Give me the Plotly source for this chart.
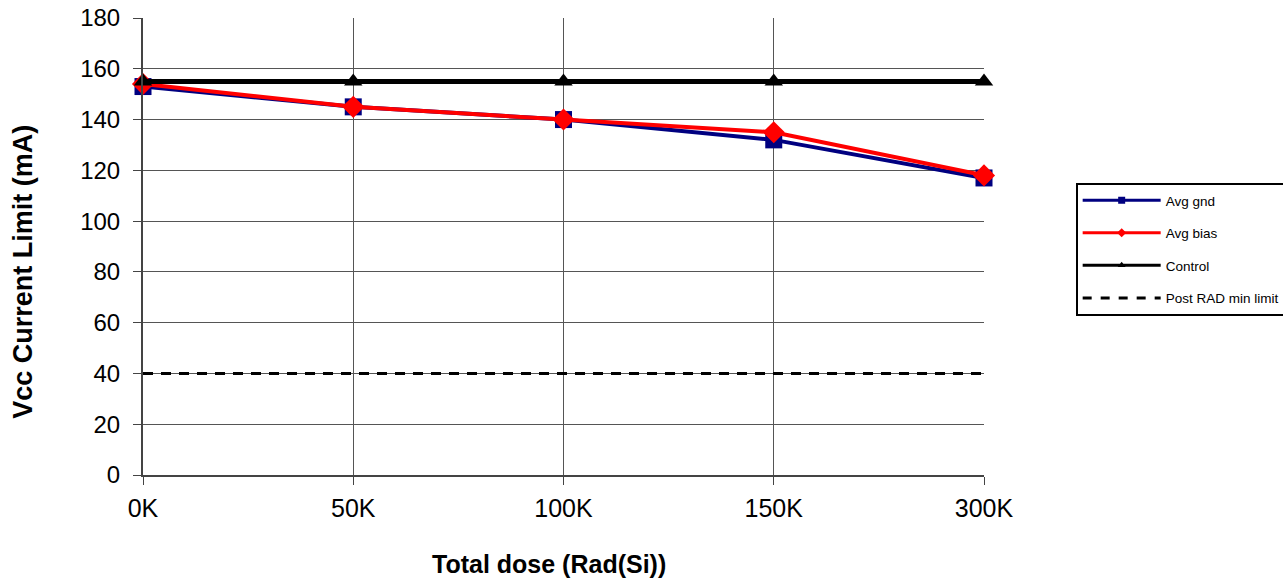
import plotly.graph_objects as go

categories = ["0K", "50K", "100K", "150K", "300K"]
avg_gnd = [153, 145, 140, 132, 117]
avg_bias = [154, 145, 140, 135, 118]
control = [155, 155, 155, 155, 155]
post_rad_limit = [40, 40, 40, 40, 40]

series = [
    dict(name="Avg gnd", y=avg_gnd, color="#000080", width=4, symbol="square", size=17, dash="solid"),
    dict(name="Avg bias", y=avg_bias, color="#ff0000", width=4, symbol="diamond", size=17, dash="solid"),
    dict(name="Control", y=control, color="#000000", width=5, symbol="triangle-up", size=16, dash="solid"),
    dict(name="Post RAD min limit", y=post_rad_limit, color="#000000", width=3, symbol=None, size=0, dash="10px,8px"),
]

fig = go.Figure()
for s in series:
    mode = "lines+markers" if s["symbol"] else "lines"
    mk = dict(symbol=s["symbol"], size=s["size"], color=s["color"]) if s["symbol"] else None
    fig.add_trace(go.Scatter(x=categories, y=s["y"], name=s["name"], mode=mode,
                             line=dict(color=s["color"], width=s["width"], dash=s["dash"]),
                             marker=mk, cliponaxis=False, showlegend=False))
# legend entries with small markers (as in the reference legend)
for i, s in enumerate(series):
    mode = "lines+markers" if s["symbol"] else "lines"
    mk = dict(symbol=s["symbol"], size=7, color=s["color"]) if s["symbol"] else None
    fig.add_trace(go.Scatter(x=[None], y=[None], name=s["name"], mode=mode,
                             line=dict(color=s["color"], width=3, dash="dash" if s["symbol"] is None else "solid"),
                             marker=mk, showlegend=True, legendgroup="g%d" % i))

fig.update_layout(
    width=1283, height=583,
    margin=dict(l=143, r=299, t=18, b=108, autoexpand=False),
    plot_bgcolor="white", paper_bgcolor="white",
    font=dict(family="Liberation Sans, Arial, sans-serif", color="black"),
    showlegend=True,
    legend=dict(x=1.109, y=0.639, xanchor="left", yanchor="top",
                bordercolor="black", borderwidth=2, bgcolor="white",
                font=dict(size=13.5), tracegroupgap=12, traceorder="grouped",
                itemwidth=78),
    annotations=[
        dict(text="<b>Total dose (Rad(Si))</b>", xref="paper", yref="paper",
             x=0.483, y=-0.195, xanchor="center", yanchor="middle",
             showarrow=False, font=dict(size=25)),
        dict(text="<b>Vcc Current Limit (mA)</b>", xref="paper", yref="paper",
             x=-0.143, y=0.444, xanchor="center", yanchor="middle", textangle=-90,
             showarrow=False, font=dict(size=27)),
    ],
)
fig.update_xaxes(
    type="category", range=[0, 4], automargin=False,
    showgrid=True, gridcolor="#555555", gridwidth=1,
    showline=True, linecolor="#444444", linewidth=2,
    ticks="outside", ticklen=8, tickcolor="#444444",
    tickfont=dict(size=25), ticklabelstandoff=2,
    zeroline=False,
)
fig.update_yaxes(
    range=[0, 180], dtick=20, automargin=False,
    showgrid=True, gridcolor="#555555", gridwidth=1,
    showline=True, linecolor="#444444", linewidth=2,
    ticks="outside", ticklen=8, tickcolor="#444444",
    tickfont=dict(size=24), ticklabelstandoff=8,
    zeroline=False,
)

fig.write_html("out.html", config={"displayModeBar": False},
               post_script="document.body.style.margin='0';document.body.style.overflow='hidden';")
